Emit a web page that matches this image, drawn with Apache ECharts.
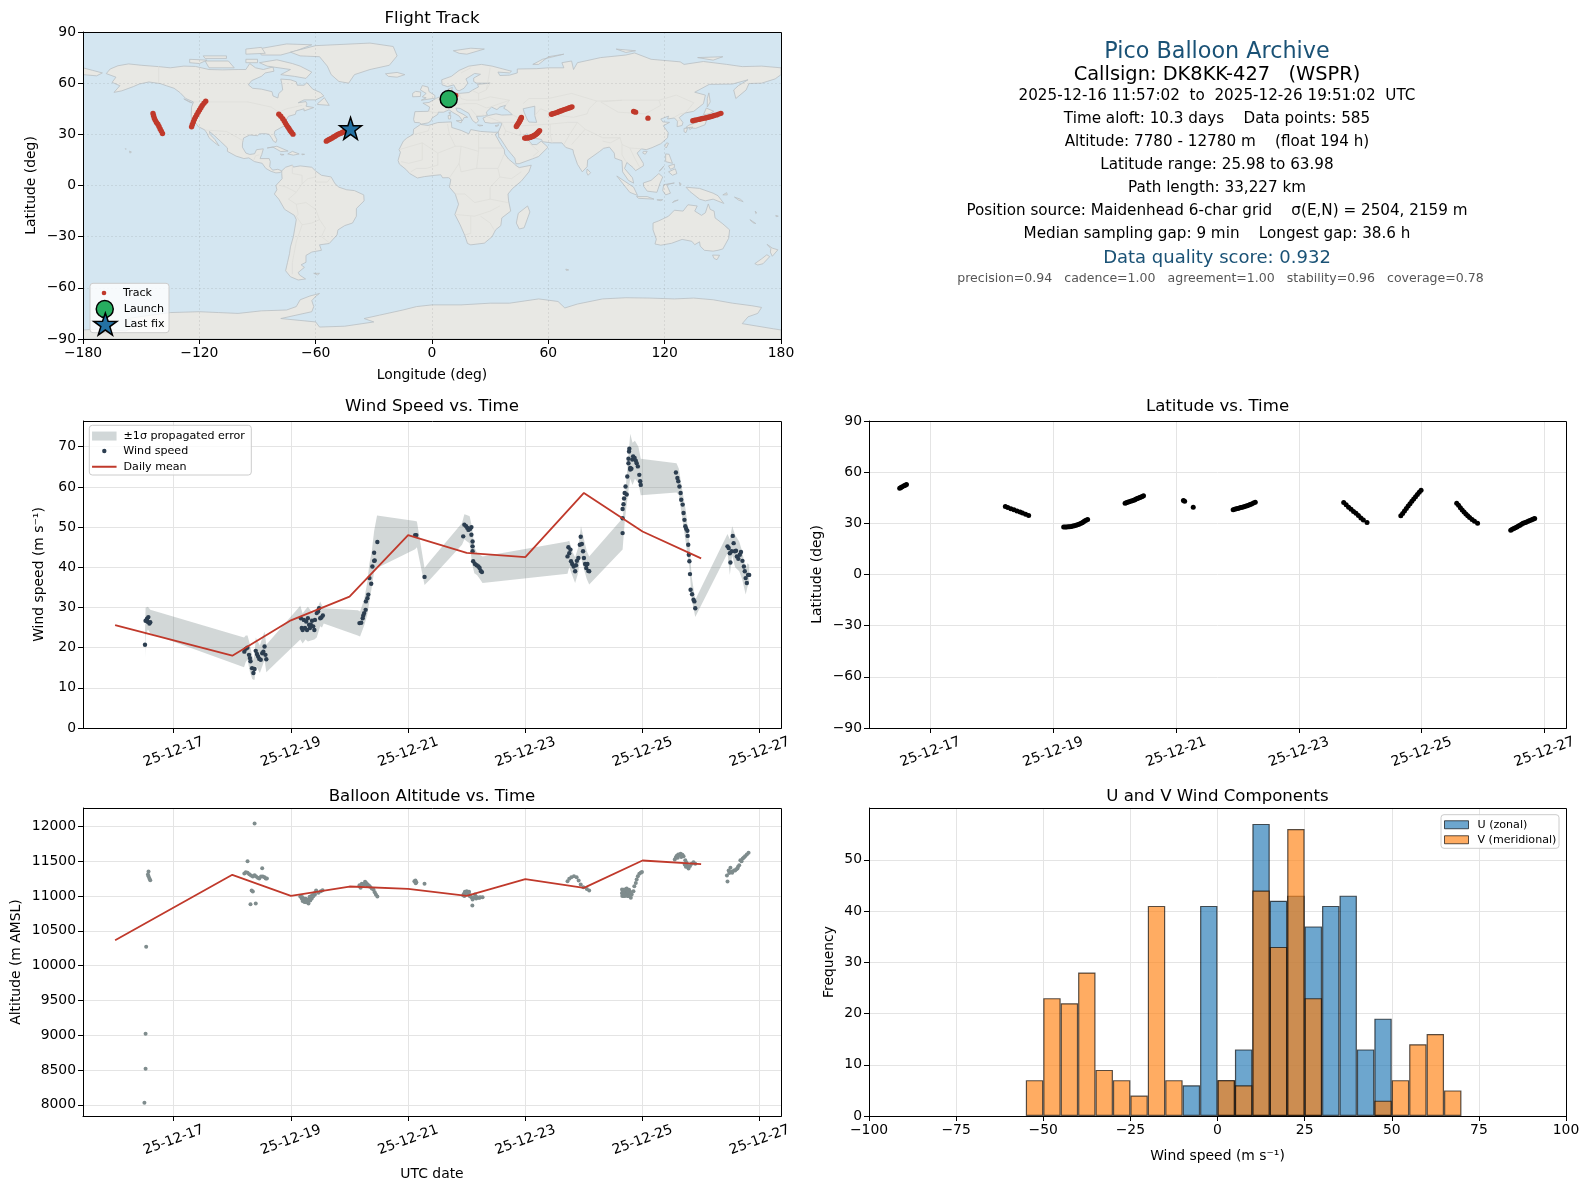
<!DOCTYPE html>
<html><head><meta charset="utf-8">
<style>html,body{margin:0;padding:0;background:#fff}#c{width:1588px;height:1189px}</style>
<script src="https://cdn.jsdelivr.net/npm/echarts@6/dist/echarts.min.js"></script>
</head><body><div id="c"></div>
<script>
// ---------- data ----------
const dayTicks=[17,19,21,23,25,27];
const dayTickLabels=['25-12-17','25-12-19','25-12-21','25-12-23','25-12-25','25-12-27'];

const trackT=[16.50,16.52,16.54,16.57,16.59,16.61, 18.22,18.26,18.31,18.36,18.41,18.46,18.50,18.55,18.60, 19.17,19.22,19.27,19.32,19.37,19.42,19.47,19.51,19.56, 20.17,20.21,20.26,20.31,20.35,20.39,20.43,20.47, 21.12,21.14,21.28, 21.93,21.98,22.03,22.08,22.13,22.18,22.23,22.29, 23.73,23.77,23.81,23.85,23.89,23.93,23.97,24.01,24.05,24.11, 24.66,24.69,24.72,24.75,24.78,24.81,24.84,24.87,24.90,24.93,24.96,24.99, 25.57,25.60,25.63,25.66,25.69,25.72,25.75,25.78,25.82,25.86,25.91, 26.45,26.50,26.55,26.60,26.65,26.70,26.75,26.80,26.84, 21.955,22.005,22.055,22.105,22.155,22.205,22.26, 26.475,26.525,26.575,26.625,26.675,26.725,26.775,26.82, 20.19,20.235,20.285,20.33,20.37,20.41,20.45, 19.195,19.245,19.295,19.345,19.395,19.445,19.49,19.535];
const trackLat=[50.6,51.0,51.5,52.0,52.4,52.8, 39.9,39.3,38.6,38.0,37.2,36.6,36.0,35.3,34.6, 27.8,27.9,28.0,28.4,28.9,29.5,30.4,31.3,32.2, 41.8,42.3,42.9,43.6,44.2,44.8,45.4,46.1, 43.4,43.0,39.5, 38.0,38.5,39.0,39.5,40.0,40.6,41.4,42.3, 42.2,40.9,39.5,38.2,37.0,35.9,34.6,33.2,31.9,30.5, 34.4,35.8,37.3,38.7,40.1,41.5,43.0,44.3,45.6,46.9,48.2,49.4, 41.8,40.6,39.2,37.8,36.6,35.4,34.4,33.4,32.3,31.2,30.1, 26.0,27.0,27.9,28.9,30.0,30.7,31.5,32.2,32.9, 38.25,38.75,39.25,39.75,40.3,41.0,41.85, 26.5,27.45,28.4,29.45,30.35,31.1,31.85,32.55, 42.05,42.6,43.25,43.9,44.5,45.1,45.75, 27.85,27.95,28.2,28.65,29.2,29.95,30.85,31.75];
const trackLon=[8.6,9.2,10,10.8,11.5,12.2, 46.1,45.9,45.6,45.3,45,44.6,44.3,43.9,43.5, 47.8,48.9,50,51,52,53,54,54.8,55.5, 61.6,63,64.6,66,67.5,69,70.6,72.2, 104,105,111.4, 134.5,136.5,138.5,140.5,142.5,144.5,146.8,149, -143.9,-143.6,-143.2,-142.7,-142.1,-141.4,-140.8,-140.2,-139.6,-139, -124,-123.6,-123.1,-122.6,-122,-121.3,-120.6,-119.9,-119.2,-118.5,-117.6,-116.7, -79,-78,-77,-76.2,-75.6,-75,-74.4,-73.8,-73.2,-72.5,-71.7, -54.5,-53,-51.5,-50,-48.5,-47,-45.5,-43.9,-42.4, 135.5,137.5,139.5,141.5,143.5,145.6,147.9, -53.75,-52.25,-50.75,-49.25,-47.75,-46.25,-44.7,-43.15, 62.3,63.8,65.3,66.75,68.25,69.8,71.4, 48.35,49.45,50.5,51.5,52.5,53.5,54.4,55.15];
const launchPoint=[8.6,50.7];
const lastFixPoint=[-42,33.5];

const windT=[16.51,16.52,16.545,16.567,16.56,16.585,16.60, 18.205,18.23,18.257,18.285,18.30,18.31,18.337,18.36,18.38,18.40,18.42,18.44,18.46,18.485,18.51,18.53,18.55,18.565,18.58, 19.17,19.185,19.20,19.22,19.24,19.26,19.275,19.29,19.31,19.325,19.34,19.36,19.38,19.40,19.41,19.44,19.465,19.48,19.50,19.52,19.545, 20.17,20.20,20.225,20.235,20.25,20.275,20.28,20.305,20.32,20.34,20.37,20.39,20.42,20.43,20.42,20.475, 21.12,21.14,21.28, 21.94,21.96,21.99,22.01,22.03,22.06,22.08,22.08,22.10,22.10,22.10,22.11,22.14,22.17,22.20,22.22,22.24,22.26, 23.72,23.735,23.75,23.77,23.78,23.80,23.825,23.85,23.865,23.88,23.905,23.93,23.945,23.965,23.985,24.00,24.02,24.04,24.06,24.075,24.09, 24.66,24.66,24.66,24.675,24.685,24.695,24.71,24.73,24.74,24.76,24.76,24.77,24.775,24.79,24.79,24.81,24.825,24.84,24.865,24.885,24.90,24.92,24.945,24.96,24.97, 25.57,25.595,25.61,25.63,25.65,25.66,25.685,25.70,25.715,25.73,25.745,25.765,25.77,25.78,25.79,25.80,25.81,25.82,25.845,25.87,25.885,25.90, 26.45,26.47,26.49,26.50,26.52,26.54,26.555,26.575,26.595,26.61,26.635,26.66,26.68,26.705,26.73,26.745,26.76,26.78,26.80,26.82];
const windV=[20.7,26.7,27.2,27.6,26.4,26.0,26.3, 19.0,19.7,20.0,18.2,17.4,16.6,14.9,13.7,14.7,19.2,18.4,17.8,17.2,17.0,18.6,19.0,20.3,18.2,17.1, 27.3,24.9,24.4,26.9,24.9,26.5,24.4,27.3,25.7,24.9,25.7,26.7,25.3,24.4,26.9,28.6,29.0,29.8,27.3,27.5,28.0, 26.1,26.2,27.3,28.0,28.6,29.4,31.5,32.3,33.2,37.3,35.9,40.2,41.6,41.7,43.6,46.3, 48.0,48.0,37.6, 47.7,50.6,50.2,49.8,49.3,49.6,50.0,48.1,46.4,45.2,44.0,41.5,40.8,40.5,40.2,39.8,39.1,38.8, 42.7,45.0,43.5,44.4,41.5,40.8,40.2,39.0,40.5,41.6,42.3,45.6,47.6,45.8,44.0,42.3,40.8,39.8,40.8,39.1,39.0, 48.5,52.2,54.5,55.7,57.1,58.5,60.1,58.1,62.6,65.9,67.0,68.8,69.5,64.7,64.3,64.5,66.8,67.6,67.2,66.5,65.9,65.1,63.0,61.4,60.5, 63.6,62.2,61.4,60.1,58.5,56.8,55.6,53.5,51.8,50.2,49.6,49.1,47.8,45.6,43.1,41.5,38.3,34.4,33.3,31.9,31.5,29.8, 45.2,44.8,43.5,41.2,44.0,47.8,46.0,44.0,44.1,42.7,42.1,43.1,43.8,41.6,40.2,39.0,37.3,36.1,38.1,38.1];

const bandT=[16.51,16.52,16.56,16.60,18.20,18.23,18.26,18.30,18.34,18.36,18.38,18.40,18.44,18.47,18.51,18.55,18.58,19.16,19.20,19.25,19.29,19.34,19.40,19.44,19.50,19.53,19.56,20.14,20.18,20.25,20.30,20.34,20.38,20.42,20.47,21.12,21.15,21.28,21.37,21.92,21.96,22.00,22.05,22.09,22.13,22.18,22.27,23.72,23.75,23.80,23.85,23.90,23.93,23.95,24.00,24.05,24.09,24.66,24.70,24.75,24.79,24.83,24.87,24.93,24.97,25.58,25.62,25.68,25.74,25.80,25.84,25.90,26.45,26.49,26.53,26.58,26.65,26.70,26.76,26.79,26.82];
const bandHi=[23.9,29.9,30.2,29.4,22.5,23.0,23.0,20.8,18.0,17.0,18.5,22.5,21.4,20.5,22.4,24.0,20.7,30.4,28.5,29.5,30.2,29.2,28.5,29.5,31.5,30.5,29.8,29.3,29.0,32.0,36.0,41.0,44.0,49.0,52.9,51.5,51.4,39.8,41.5,51.0,53.2,53.0,52.7,50.0,45.0,43.5,42.7,46.4,46.6,44.0,42.5,44.8,48.0,50.2,47.0,44.0,42.7,52.2,58.0,66.0,73.2,71.0,71.5,70.0,67.0,65.9,64.5,59.0,54.0,46.0,37.5,31.9,48.3,47.0,50.2,48.0,46.4,44.0,39.5,41.0,40.6];
const bandLo=[17.5,23.0,24.5,23.6,15.1,16.4,17.0,14.0,12.2,12.0,12.0,15.5,14.5,13.7,15.3,17.0,13.9,22.0,21.0,22.0,21.5,21.8,22.0,22.5,25.3,25.0,26.0,23.0,22.8,25.5,28.0,31.5,35.0,39.0,39.8,44.5,45.0,35.6,36.9,45.6,47.0,46.5,46.0,41.0,38.5,38.0,36.1,38.4,40.0,38.0,36.1,38.5,41.5,42.5,39.5,37.0,35.7,44.4,52.0,58.0,62.0,60.5,62.0,61.0,57.9,58.6,58.0,52.0,46.0,40.0,32.0,27.6,43.5,38.1,43.0,40.0,39.0,37.0,33.2,35.0,36.5];

const meanT=[16,18,19,20,21,22,23,24,25,26];
const meanWind=[25.6,18.0,26.8,32.7,48.0,43.6,42.5,58.5,48.9,42.2];
const meanAlt=[10365,11305,11002,11137,11103,11002,11242,11118,11511,11458];

const altT=[16.50,16.52,16.52,16.53,16.57,16.56,16.57,16.585,16.60, 18.26,18.38,18.51,18.33,18.35,18.31,18.40, 18.205,18.23,18.26,18.29,18.32,18.35,18.38,18.405,18.435,18.46,18.49,18.52,18.55,18.57,18.59, 19.16,19.185,19.21,19.24,19.27,19.30,19.33,19.355,19.38,19.41,19.43,19.47,19.51,19.54,19.19,19.22,19.25,19.28,19.32,19.36,19.40, 20.17,20.19,20.21,20.235,20.265,20.28,20.305,20.33,20.35,20.38,20.41,20.43,20.45,20.475,20.18,20.25,20.30, 21.107,21.125,21.14,21.13,21.28, 21.94,21.97,22.00,22.03,22.06,22.08,22.10,22.096,22.14,22.17,22.20,22.23,22.27,21.96,21.99,22.02,22.05, 23.72,23.75,23.785,23.83,23.875,23.91,23.945,23.99,24.05,24.09, 24.65,24.66,24.675,24.70,24.73,24.755,24.77,24.80,24.815,24.845,24.86,24.885,24.90,24.92,24.945,24.97,24.99,24.65,24.67,24.69,24.71,24.74,24.76,24.79, 25.55,25.58,25.61,25.65,25.70,25.73,25.76,25.785,25.81,25.84,25.87,25.90,25.60,25.63,25.68,25.75,25.78, 26.45,26.44,26.47,26.50,26.53,26.56,26.58,26.62,26.65,26.67,26.71,26.75,26.78,26.81,26.48,26.52,26.60,26.63,26.69,26.73, 24.655,24.665,24.68,24.685,24.695,24.70,24.72,24.68,24.70,24.745,24.75,21.95,21.97,22.01,22.04,22.12,22.16,22.22,19.20,19.23,19.26,19.29,19.31,19.34,19.38, 25.57,25.59,25.66,25.72,25.74];
const altV=[8029,8518,9022,10273,11352,11309,11285,11252,11228, 11501,12043,11400,11079,11065,10883,10892, 11324,11343,11333,11314,11295,11281,11300,11281,11262,11252,11281,11281,11271,11252,11252, 10993,10964,10945,10935,10926,10892,10935,10964,10998,11022,11079,11046,11070,11084,10985,10965,10960,10950,10990,11010,11040, 11156,11118,11175,11170,11204,11190,11170,11150,11132,11108,11089,11055,11022,10993,11135,11165,11155, 11213,11223,11199,11185,11175, 11012,11060,11070,11050,11012,10983,10950,10863,11022,10988,10974,10983,10983,11000,11040,11030,11000, 11213,11247,11271,11285,11271,11223,11166,11127,11103,11079, 11094,11055,11022,11070,11108,11031,11089,10974,11022,11070,11142,11189,11237,11285,11319,11333,11345,11040,11075,11050,11085,11045,11000,11060, 11525,11573,11597,11606,11573,11516,11444,11396,11430,11463,11487,11463,11550,11590,11595,11480,11410, 11209,11295,11367,11405,11333,11367,11367,11396,11444,11516,11540,11573,11597,11621,11330,11350,11385,11420,11500,11555, 11000,11010,11000,11030,11010,11000,11020,11090,11095,11000,11060,11030,11050,11040,11060,10975,10965,10975,10930,10915,10910,10925,10945,10975,11005, 11555,11580,11560,11455,11420];

const histCenters=[-52.5,-47.5,-42.5,-37.5,-32.5,-27.5,-22.5,-17.5,-12.5,-7.5,-2.5,2.5,7.5,12.5,17.5,22.5,27.5,32.5,37.5,42.5,47.5,52.5,57.5,62.5,67.5];
const histU=[0,0,0,0,0,0,0,0,0,6,41,7,13,57,42,43,37,41,43,13,19,0,0,0,0];
const histV=[7,23,22,28,9,7,4,41,7,0,0,7,6,44,33,56,23,0,0,0,3,7,14,16,5];

const infoLines=[
 ['Pico Balloon Archive',52.2,22.3,'#1a5276'],
 ['Callsign: DK8KK-427   (WSPR)',74.8,19.4,'#000'],
 ['2025-12-16 11:57:02  to  2025-12-26 19:51:02  UTC',95.9,15.2,'#000'],
 ['Time aloft: 10.3 days    Data points: 585',119,15.2,'#000'],
 ['Altitude: 7780 - 12780 m    (float 194 h)',142.3,15.2,'#000'],
 ['Latitude range: 25.98 to 63.98',164.8,15.2,'#000'],
 ['Path length: 33,227 km',188.1,15.2,'#000'],
 ['Position source: Maidenhead 6-char grid    σ(E,N) = 2504, 2159 m',211.3,15.2,'#000'],
 ['Median sampling gap: 9 min    Longest gap: 38.6 h',234.1,15.2,'#000'],
 ['Data quality score: 0.932',258.7,18,'#1a5276'],
 ['precision=0.94   cadence=1.00   agreement=1.00   stability=0.96   coverage=0.78',279,12.55,'#555555',1220.5]
];

// land outlines, [lon,lat]
const landPolygons=[
 [[-168,65.6],[-166,68.3],[-162,70.2],[-156.5,71.3],[-150,70.5],[-141,69.7],[-135,69],[-128,70],[-122,69.8],[-115,68],[-108,67.8],[-100,68],[-96,68],[-94,71.5],[-91,69],[-87,68],[-82,69.5],[-81.5,67],[-86,66],[-88,64],[-93,61.5],[-94.7,59],[-92.5,57],[-88,56.5],[-82.5,55],[-82,52.5],[-79.5,51.3],[-79,54],[-77,56],[-77.5,60],[-78,62.4],[-73,62],[-70,60.8],[-69.5,58.8],[-66,58.8],[-64.5,60.3],[-61.5,56.5],[-57.5,54.5],[-55.8,52.5],[-60,50.2],[-66,50.2],[-69,48.5],[-65,49.2],[-64.5,47.8],[-65,46.5],[-61,45.7],[-66,43.7],[-66,45],[-70,43.7],[-70.5,41.7],[-74,40.6],[-75.5,38],[-76,36.8],[-75.7,35.2],[-78,33.9],[-81,32],[-81.4,30],[-80,26.8],[-80.5,25.2],[-81.8,26],[-82.8,28],[-84,30],[-86,30.4],[-89,30.3],[-90,29.2],[-94,29.6],[-97.2,27.8],[-97.7,25],[-97.8,22.5],[-96,19],[-94,18.2],[-91.5,18.6],[-90.5,21],[-87,21.5],[-87.8,18.2],[-88.7,15.8],[-84,15.8],[-83.4,14],[-83.7,11],[-82.2,9],[-79.5,9.5],[-77.5,8.6],[-78.2,7.6],[-80.5,7.4],[-83,8.3],[-85.7,10],[-87.6,13],[-91.5,14],[-94.5,16.2],[-97,15.8],[-101,17.2],[-105.5,20],[-105.5,22],[-109,25.8],[-112.5,29.5],[-114.8,31.7],[-114.5,30],[-112,27],[-109.8,23.2],[-112,25],[-115,28],[-116,30.5],[-117.2,32.6],[-120.5,34.5],[-122.5,37.5],[-124.2,40.3],[-124,46],[-123,49],[-127,51],[-130,54.5],[-133,57],[-137,58.5],[-140,59.7],[-146,60.7],[-151,59.5],[-154,58],[-160,55.5],[-164,54.6],[-161,58.5],[-165,60.5],[-163,63.5]],
 [[-80,73.7],[-72,71.5],[-68,70],[-62,66.5],[-65,62.8],[-71,64],[-78,65],[-73,68],[-85,70],[-89,72]],
 [[-117,73],[-105,73],[-102,69],[-115,69]],[[-125,74],[-116,73.5],[-120,71.5],[-125,72]],
 [[-90,80],[-75,83],[-62,82.5],[-70,79],[-78,76.5],[-88,76.5]],[[-96,80],[-88,81],[-86,77.5],[-96,77]],
 [[-118,76],[-106,76],[-106,74.5],[-117,74.5]],[[-96,74],[-90,74],[-90,72],[-96,72]],
 [[-59,48],[-55.5,51.5],[-53,47],[-59,47.5]],[[-128,50.8],[-123.5,48.4],[-125,48.8]],
 [[-85,22],[-80,23],[-74.2,20.2],[-78,19.9],[-82,22.5]],[[-74.4,18.5],[-72,20],[-68.5,18.5],[-71.5,17.8]],
 [[-78.3,18.4],[-76.3,18.1],[-77.5,17.8]],[[-67.2,18.5],[-65.7,18.3],[-67,18]],
 [[-156,20.2],[-155,19.6],[-155.8,19]],[[-158.2,21.6],[-157.7,21.4],[-158,21.2]],
 [[-73,78.2],[-60,82],[-32,83.5],[-20,81.5],[-18,76],[-22,70.5],[-32,68],[-40,65],[-43,60],[-48,61],[-52,65],[-54,70],[-58,75.5],[-68,76]],
 [[-24,65.5],[-18,66.3],[-14,65],[-18,63.5],[-22.5,64]],
 [[11,79],[20,80.5],[27,80],[18,77],[14,77.5]],[[52,71],[57,74],[68,77],[60,75.5],[55,71]],[[95,80],[105,79],[100,78]],[[137,75],[150,75.5],[145,73.5]],
 [[-180,69],[-175,67.5],[-170,66],[-173,64.3],[-180,65]],
 [[-77.5,8.6],[-75.5,10.7],[-72,12],[-71.5,10.8],[-68,11.5],[-62,10.7],[-60,8.5],[-57,6],[-52,5],[-50,1],[-48,-1],[-44,-2.5],[-40,-3],[-35.2,-5.5],[-35,-9],[-39,-13.5],[-39,-18],[-41,-22],[-45,-23.5],[-48.5,-26],[-49,-29],[-53,-34],[-58,-34.8],[-57,-38],[-62,-39],[-65,-41],[-65,-45],[-67.5,-46.5],[-65.8,-48],[-69,-51],[-68.3,-52.5],[-65.2,-54.8],[-69,-55.4],[-73,-53.5],[-75.5,-50],[-74.5,-45],[-73.5,-40],[-73,-36],[-71.5,-30],[-70,-20],[-71,-17.5],[-76,-14],[-79,-8],[-81.3,-5],[-80,-2.5],[-80.5,0],[-78.5,2.5],[-77.3,4],[-77.5,7]],
 [[-61,-51.5],[-58,-51.5],[-59,-52.4]],
 [[-5.9,35.8],[-2,35.2],[3,36.9],[10,37.3],[10.2,34],[15,32.3],[19,30.3],[20,32.8],[25,31.7],[32,31.2],[34.2,31.3],[32.6,29.9],[35.5,24],[37.3,21],[37.5,18.5],[39.5,15.5],[43.2,12],[43.5,11.5],[45,10.5],[51.2,11.9],[50,8],[46,2.5],[41.5,-1.8],[39.2,-5],[39.5,-9],[40.6,-15],[36,-19],[35.5,-23.5],[32.8,-26],[31,-30],[27,-33.8],[20,-34.8],[18.3,-34],[17,-29.5],[14.5,-23],[11.8,-17],[13.7,-11],[12,-5],[9,-1],[9.7,3.5],[8.5,4.6],[5.5,4.5],[4.5,6.3],[1,5.9],[-4,5.2],[-7.5,4.4],[-11.5,7],[-13.5,9.5],[-16.8,12.5],[-17.5,14.7],[-16.3,19.5],[-17,21],[-14.8,26],[-13,27.8],[-9.7,30],[-9.5,33]],
 [[49.3,-12],[50.5,-15.5],[47.5,-24.8],[45,-25.5],[43.5,-22],[44.5,-16.3]],
 [[-9,37],[-9.5,38.8],[-8.8,43.3],[-1.8,43.5],[-1.2,46],[-4.7,48.3],[-1.5,48.7],[2,51],[4,52],[8,53.8],[8.3,56.5],[10.5,57.5],[10,54.8],[11,54],[14,54],[19,54.5],[21,56],[24,57.8],[23.5,59.3],[30,60],[23,60],[21.5,61],[21.5,63],[25,65.2],[22,65.7],[17.5,62.5],[18.5,60],[16.5,57],[14,55.5],[12.7,56],[11.2,59],[8,58],[5.2,59],[5,62],[10,64],[14,67.5],[19,70],[25.5,71],[31,70],[41,67],[40,66],[34,66.5],[35,64.5],[40,64.7],[44,66],[44,68.3],[54,68.5],[60,69],[68,69],[67,72],[72,73],[73,68],[75,72],[81,73.5],[87,75],[100,76.5],[104.5,77.7],[113,74],[128,72.5],[130,71],[140,72.7],[152,71],[160,69.7],[170,70],[180,69],[180,65],[177,62.5],[170,60],[163.5,59.8],[162,56],[156.7,51],[155.6,56],[158,58.5],[163,62],[155,59.5],[143,59.3],[135.5,54.7],[141,53],[140,48],[135,43.5],[130.5,42.5],[127.5,39.8],[129.4,37],[129,35.2],[126.4,34.5],[126.6,37.7],[125,39.6],[121.5,39],[122,40.7],[118,39],[119,37.3],[122.5,37],[119.3,35],[121.8,31],[121.5,28],[118,24.5],[113.5,22.2],[110.5,21],[108,21.5],[105.8,19],[109,13],[109,11.5],[105,8.7],[103.7,10.5],[100.5,13.5],[99.3,10],[103.4,4.5],[104,1.4],[101.3,3],[98.3,8],[98,14.5],[94.3,16],[94,19],[91.5,22.5],[88.5,21.8],[86.5,20],[80.3,15],[80,11],[77.5,8],[75,12.5],[73,19],[72.7,21],[69,22.3],[67,25],[61.5,25],[57,25.7],[56.5,27],[51.5,27.9],[49,30.3],[48,29.8],[48.5,28],[51,25],[51.5,24],[54,24],[56.3,26],[58.7,23.6],[59.8,22.4],[55,17],[52,15.7],[45,12.8],[43.3,12.7],[42.7,16],[39,21],[35,28],[34.5,28],[34.2,31.3],[35.8,35.5],[36,36.8],[30.5,36.5],[27.3,37],[26.3,39.5],[29,41],[33,42],[36,41.3],[41.5,41.5],[39,44],[37,45.3],[38,47],[35,46],[33.5,44.5],[30.7,46],[28,43],[28.5,41.3],[26,40.7],[23,40.5],[24,38],[22.8,36.5],[21,38],[19.5,41],[19,42.3],[14.5,45.2],[12.3,45.4],[13,43.5],[16,41.8],[18.4,40],[16.5,39.8],[15.7,38],[14,40.7],[10.5,43],[8.8,44.4],[6,43],[3.2,43],[3,41.7],[0,39.5],[-0.5,38],[-2,36.7],[-5.5,36],[-6.5,36.8]],
 [[-5.5,50],[1.5,51.2],[1.5,52.8],[-1.5,55],[-2,57.7],[-5,58.6],[-6,56],[-3,54],[-5,52],[-3,51.4]],[[-10,52],[-6,52.2],[-5.8,54.8],[-8.5,55.2],[-10,54]],
 [[12.5,38],[15.5,38.2],[15,36.7]],[[8.3,41],[9.7,41],[9.5,39],[8.5,39]],[[8.7,42.8],[9.5,43],[9.3,41.5]],[[23.5,35.5],[26.3,35.2],[24.5,34.9]],[[32.5,35],[34.5,35.6],[33.5,34.6]],
 [[130.9,34],[136,33.5],[140.8,35.6],[142,39.5],[141,41.4],[139.8,39],[136.7,37],[132.5,35.4]],[[140,41.5],[141.5,45.4],[145.3,43.5],[143,42]],[[130,33.5],[131.8,33.5],[131,31],[130,31.5]],[[132.5,34],[134.5,34.2],[133,32.8]],
 [[142,46],[143.5,49],[142.8,54.3],[142,51]],[[121,25],[122,24.7],[120.8,22],[120,23]],[[109,20],[111,20],[110,18.3],[108.7,19]],
 [[120.5,18.5],[122.3,18.3],[124,13],[120.5,14]],[[122,8],[125.5,9.8],[126.3,7],[124,6]],[[122,11.5],[125,12.5],[125,10.5],[123,9.5]],[[117.2,8.4],[119.5,11.3],[118,9]],
 [[95.3,5.6],[104,-1],[106,-5.8],[102,-4],[98.5,1]],[[105.5,-6.5],[111,-6.5],[114.5,-8],[106.5,-7.5]],[[109,1.5],[113,3],[117,7],[119,5],[117.5,1],[116,-4],[111,-3.3],[109.2,-0.5]],[[119.5,0.5],[125,1.5],[121,0.5],[123,-4.5],[120.5,-5.5],[119,-3]],
 [[131,-1],[138,-1.7],[145,-4.5],[147.5,-6],[150.5,-10.5],[145,-8],[141,-9],[138,-8],[133,-3.5]],[[80,9.7],[81.8,7.5],[80.5,6],[79.8,7.5]],[[124,-10],[127,-8.5],[125,-9]],[[116,-8.4],[119,-8.3],[118,-8.9]],[[127.5,1.8],[128.5,1],[128,0]],[[150,-5.5],[152,-4.2],[152.3,-5.5]],
 [[156,-6.8],[159,-8],[160.5,-9.5],[158,-8.5]],[[166.7,-15],[167.5,-16],[167,-16.5]],[[164,-20],[167,-22.3],[165.5,-21.8]],[[177.3,-17.5],[178.6,-18],[177.5,-18.3]],
 [[69,-49],[70.5,-49.5],[69.3,-49.8]],[[144.7,-40.8],[148.3,-40.9],[147,-43.5],[145.5,-42.8]],
 [[172.8,-34.5],[175.5,-36.7],[178.4,-37.7],[175.5,-41.5],[174.5,-39],[174.8,-37]],[[172.7,-40.6],[174.2,-41.7],[170.7,-45.9],[168,-46.6],[166.5,-45.8],[170,-43]],
 [[114,-22],[114,-26],[115.7,-31.5],[115,-34.3],[118,-35],[123.5,-33.9],[129,-31.6],[134,-32.7],[135.5,-34.7],[138,-33],[138.3,-35.5],[140.5,-38],[145,-38.5],[147.5,-38],[150,-37.2],[153,-31],[153.5,-26],[150,-22.5],[146,-19],[145.5,-15],[143.5,-14],[142.5,-10.8],[141,-16],[139,-17.5],[135.5,-15],[136.8,-12],[132,-11.3],[129.5,-15],[125,-14.5],[122,-18],[117,-20.7]],
 [[-180,-84.7],[-170,-84],[-158,-85.3],[-150,-81],[-157,-78],[-148,-76.5],[-135,-74.5],[-120,-74],[-110,-74.5],[-100,-75],[-88,-73.5],[-75,-73],[-70,-71],[-68,-67],[-63,-64.8],[-58,-63.3],[-60,-65],[-62,-67.5],[-61,-71],[-62,-74],[-78,-78],[-60,-80],[-58,-83],[-45,-82.5],[-30,-80],[-35,-78],[-27,-76],[-15,-73],[-8,-71],[0,-70],[15,-70],[30,-69],[40,-69],[55,-66.5],[65,-68],[68.5,-71.8],[75,-69.5],[88,-66.5],[100,-65.8],[112,-66],[125,-66.5],[135,-66],[145,-67],[155,-69],[165,-70.5],[170,-71.5],[168,-75],[163,-77],[160,-81],[176,-84],[180,-84.7],[180,-90],[-180,-90]]
];
const waterPolygons=[[[47,45],[53,46.5],[53,41],[54,37],[50,37.2],[49,39],[47.5,43]]];
const borderLines=[
 [[-123,49],[-95,49],[-83,46],[-79,43],[-75,45],[-67,47]],[[-117,32.5],[-106,31.7],[-97,26]],[[-141,70],[-141,60]],[[-92,14.5],[-91,17.5],[-89,18]],
 [[-72,12],[-72,7],[-67,6],[-67,1],[-70,-4],[-74,-8],[-70,-11],[-69,-17],[-70,-18]],[[-60,8],[-60,5],[-64,4],[-67,1]],[[-52,5],[-54,2],[-60,2]],[[-70,-11],[-65,-10],[-60,-14],[-58,-20],[-62,-22],[-67,-23],[-70,-18]],[[-67,-23],[-70,-33],[-72,-45],[-72,-52]],[[-58,-20],[-55,-25],[-57,-30],[-53,-33.5]],[[-78,0],[-75,-1],[-70,-4]],
 [[-9,30],[-2,32],[-1,35]],[[-5,25],[3,19],[12,23],[9,30],[8,36]],[[-17,21],[-5,25]],[[-5,25],[-5,15],[-12,13],[-16,14]],[[3,19],[3,12],[-3,10],[-8,10],[-11,8]],[[12,23],[15,23],[24,20],[24,31]],[[24,22],[37,22]],[[15,23],[14,13],[9,4.5]],[[24,20],[23,10],[15,8],[14,13]],[[23,10],[34,10],[36,15],[37,18]],[[34,10],[35,5],[41,4],[46,8]],[[35,5],[30,-1],[30,-8],[39,-10]],[[12,-5],[17,-5],[22,-10],[30,-8]],[[12,-17],[22,-18],[30,-15],[35,-12]],[[20,-18],[20,-28],[17,-29]],[[25,-18],[30,-22],[32,-26]],
 [[-2,43.5],[3,42.5]],[[2,51],[6,49.5],[8,47.5],[7,44]],[[8,47.5],[13,47.5],[17,48],[23,48],[28,45.5]],[[7,53.5],[6,50]],[[14,54],[15,51],[18,50],[24,50]],[[24,50],[24,54],[21,55.5]],[[28,45.5],[30,46],[40,50],[38,47]],[[24,50],[30,52],[40,50]],[[28,56],[30,60]],[[30,69],[29,62],[28,56],[24,54]],[[15,66],[20,69]],[[20,45],[23,41],[26,41]],[[26,41.5],[36,37],[44,37],[44,40],[41.5,41.5]],
 [[36,37],[38,32],[37,29]],[[44,37],[46,30],[48,29.5]],[[38,32],[46,29],[55,20],[52,17]],[[44,37],[48,39],[49,38]],[[46,35],[61,36],[61,30],[62,25]],[[61,36],[70,37],[75,37],[71,30],[68,24]],
 [[53,41],[56,45],[65,41],[73,40],[80,42],[81,45],[85,49.5],[72,54],[60,51],[50,51],[47,48]],[[85,49.5],[98,50],[107,50],[117,50],[126,53],[135,48.5],[131,43]],[[98,50],[87,49],[96,43],[110,42],[118,47],[117,50]],[[75,37],[79,33],[88,28],[97,28],[98,24],[102,22],[108,21.5]],[[79,33],[72,24]],[[88,26],[92,25],[97,28]],[[98,24],[98,18],[100,14]],[[102,22],[105,15],[107,11]],[[125,40],[128,42],[130.5,42.5]],[[126.5,38],[128.5,38.5]]
];

// ---------- layout ----------
const FONT='"DejaVu Sans",sans-serif';
const G={map:[83,32,698,307],wind:[83,421,698,307],lat:[869,421,697,307],alt:[83,808,698,308],hist:[869,808,697,308]};
const grid=Object.values(G).map(g=>({left:g[0],top:g[1],width:g[2],height:g[3],show:true,borderWidth:0,backgroundColor:'transparent',containLabel:false}));
grid[0].backgroundColor='#d4e6f1';
const GRIDC='#e4e4e4';
const minus=v=>String(v).replace('-','\u2212');
function valAxis(idx,min,max,ticks,name,gap,extra){
 return Object.assign({type:'value',gridIndex:idx,min,max,name,nameLocation:'middle',nameGap:gap,
  nameTextStyle:{fontFamily:FONT,fontSize:13.9,color:'#000'},
  axisLine:{show:true,onZero:false,lineStyle:{color:'#000',width:1}},
  axisTick:{show:true,length:5,customValues:ticks,lineStyle:{color:'#000',width:1}},
  axisLabel:{show:true,customValues:ticks,margin:7,fontFamily:FONT,fontSize:13.9,color:'#000',formatter:minus,hideOverlap:false},
  splitLine:{show:true,lineStyle:{color:GRIDC,width:1}}},extra||{});
}
function timeAxis(idx,min,max,name,gap){
 const a=valAxis(idx,min,max,dayTicks,name,gap);
 a.axisLabel=Object.assign(a.axisLabel,{rotate:20,align:'center',verticalAlign:'middle',margin:24,formatter:v=>dayTickLabels[dayTicks.indexOf(v)]});
 return a;
}
const lonTicks=[-180,-120,-60,0,60,120,180],latTicks=[-90,-60,-30,0,30,60,90];
const mapGrid={show:true,lineStyle:{color:'rgba(120,120,120,0.2)',width:0.8,type:[2,2]}};
const xAxis=[
 valAxis(0,-180,180,lonTicks,'Longitude (deg)',29,{z:3,splitLine:mapGrid}),
 timeAxis(1,15.452,27.363,'',0),
 timeAxis(2,16.0,27.35,'',0),
 timeAxis(3,15.452,27.363,'UTC date',51),
 valAxis(4,-100,100,[-100,-75,-50,-25,0,25,50,75,100],'Wind speed (m s\u207B\u00B9)',33)
];
const yAxis=[
 valAxis(0,-90,90,latTicks,'Latitude (deg)',45,{z:3,splitLine:mapGrid}),
 valAxis(1,0,76.4,[0,10,20,30,40,50,60,70],'Wind speed (m s\u207B\u00B9)',37),
 valAxis(2,-90,90,latTicks,'Latitude (deg)',45),
 valAxis(3,7840,12265,[8000,8500,9000,9500,10000,10500,11000,11500,12000],'Altitude (m AMSL)',60),
 valAxis(4,0,60.1,[0,10,20,30,40,50],'Frequency',33)
];
const STAR='path://M12 0 L14.9 8.6 L24 8.7 L16.7 14.1 L19.4 22.8 L12 17.6 L4.6 22.8 L7.3 14.1 L0 8.7 L9.1 8.6 Z';
const zip=(a,b)=>a.map((v,i)=>[v,b[i]]);
function polySeries(name,polys,fill,stroke,lw,z){
 return {type:'custom',name,coordinateSystem:'cartesian2d',xAxisIndex:0,yAxisIndex:0,z,silent:true,clip:true,
  data:[[0,0]],encode:{x:0,y:1},
  renderItem:(par,api)=>({type:'group',children:polys.map(p=>({type:fill?'polygon':'polyline',
    shape:{points:p.map(q=>api.coord(q))},style:{fill:fill||'none',stroke,lineWidth:lw}}))})};
}
const bandSeries={type:'custom',name:'\u00B11\u03C3 propagated error',coordinateSystem:'cartesian2d',xAxisIndex:1,yAxisIndex:1,z:1,silent:true,clip:true,
 itemStyle:{color:'#d1d7d8'},data:[[bandT[0],bandLo[0]]],encode:{x:0,y:1},
 renderItem:(par,api)=>{const up=bandT.map((t,i)=>api.coord([t,bandHi[i]]));const lo=bandT.map((t,i)=>api.coord([t,bandLo[i]])).reverse();
  return {type:'polygon',shape:{points:up.concat(lo)},style:{fill:'#7f8c8d',opacity:0.35,stroke:'none'}};}};
const histStyle=c=>({color:c,opacity:0.65,borderColor:'#000',borderWidth:1.2});
const pickHist=arr=>histCenters.map((c,i)=>[c,arr[i]]).filter(d=>d[1]>0);
const series=[
 polySeries('land',landPolygons,'#e8e8e4','#b9bfc3',0.8,1),
 polySeries('caspian',waterPolygons,'#d4e6f1','#b9bfc3',0.8,1),
 polySeries('borders',borderLines,null,'#dcdcd8',0.7,1),
 {type:'scatter',name:'Track',xAxisIndex:0,yAxisIndex:0,z:4,symbolSize:5.4,silent:true,itemStyle:{color:'#c0392b',opacity:1},data:zip(trackLon,trackLat)},
 {type:'scatter',name:'Launch',xAxisIndex:0,yAxisIndex:0,z:5,symbolSize:17,silent:true,itemStyle:{color:'#27ae60',borderColor:'#000',borderWidth:1.5,opacity:1},data:[launchPoint]},
 {type:'scatter',name:'Last fix',xAxisIndex:0,yAxisIndex:0,z:6,symbol:STAR,symbolSize:22,silent:true,itemStyle:{color:'#2471a3',borderColor:'#000',borderWidth:1.5,opacity:1},data:[lastFixPoint]},
 bandSeries,
 {type:'scatter',name:'Wind speed',xAxisIndex:1,yAxisIndex:1,z:3,symbolSize:4.4,silent:true,itemStyle:{color:'#2c3e50',opacity:1},data:zip(windT,windV)},
 {type:'line',name:'Daily mean',xAxisIndex:1,yAxisIndex:1,z:4,showSymbol:false,silent:true,lineStyle:{color:'#c0392b',width:1.8},itemStyle:{color:'#c0392b'},data:zip(meanT,meanWind)},
 {type:'scatter',name:'Latitude',xAxisIndex:2,yAxisIndex:2,z:3,symbolSize:5,silent:true,itemStyle:{color:'#000',opacity:1},data:zip(trackT,trackLat)},
 {type:'scatter',name:'Altitude',xAxisIndex:3,yAxisIndex:3,z:3,symbolSize:4,silent:true,itemStyle:{color:'#7f8c8d',opacity:1},data:zip(altT,altV)},
 {type:'line',name:'Altitude daily mean',xAxisIndex:3,yAxisIndex:3,z:4,showSymbol:false,silent:true,lineStyle:{color:'#c0392b',width:1.8},itemStyle:{color:'#c0392b'},data:zip(meanT,meanAlt)},
 {type:'bar',name:'U (zonal)',xAxisIndex:4,yAxisIndex:4,z:2,barWidth:17.42,barGap:'-100%',silent:true,itemStyle:histStyle('#1f77b4'),data:pickHist(histU)},
 {type:'bar',name:'V (meridional)',xAxisIndex:4,yAxisIndex:4,z:3,barWidth:17.42,barGap:'-100%',silent:true,itemStyle:histStyle('#ff7f0e'),data:pickHist(histV)}
];
// legends: one component per entry so each key has its own size
const legend=[];
const frames=Object.values(G).map(g=>({type:'rect',z:80,silent:true,shape:{x:g[0]+0.5,y:g[1]+0.5,width:g[2],height:g[3]},style:{fill:'none',stroke:'#000',lineWidth:1}}));
function addLegend(box,keyX,entries,fs,pad){
 frames.push({type:'rect',z:90,silent:true,shape:{x:box[0],y:box[1],width:box[2],height:box[3],r:3},style:{fill:'rgba(255,255,255,0.8)',stroke:'#cccccc',lineWidth:1}});
 entries.forEach(e=>{
  const h=Math.max(e.h,9.5);
  const isRect=e.icon==='rect';
  const w=e.w||28;
  const left=isRect?keyX-w/2:keyX-e.h/2;
  legend.push({z:95,show:true,orient:'horizontal',left,top:e.y-h/2,padding:0,itemGap:0,itemWidth:w,itemHeight:e.h,selectedMode:false,
   textStyle:{fontFamily:FONT,fontSize:fs,color:'#000',padding:isRect?[0,0,0,pad]:0},data:[{name:e.name,icon:e.icon,itemStyle:e.style,lineStyle:{opacity:0}}]});
 });
}
addLegend([90,283.3,79,49.4],104,[
 {name:'Track',y:292.3,h:4.6,icon:'circle',style:{color:'#c0392b',opacity:1}},
 {name:'Launch',y:308.3,h:17,icon:'circle',style:{color:'#27ae60',borderColor:'#000',borderWidth:1.5,opacity:1}},
 {name:'Last fix',y:323.3,h:22,icon:STAR,style:{color:'#2471a3',borderColor:'#000',borderWidth:1.5,opacity:1}}],11.1,0);
addLegend([89.3,425.3,162,49.7],104.3,[
 {name:'\u00B11\u03C3 propagated error',y:435.3,h:9,w:24.5,icon:'rect',style:{color:'#d1d7d8',opacity:1}},
 {name:'Wind speed',y:450.3,h:4.4,icon:'circle',style:{color:'#2c3e50',opacity:1}},
 {name:'Daily mean',y:466,h:2,w:24.5,icon:'rect',style:{color:'#c0392b',opacity:1}}],11.1,2);
addLegend([1441,814.7,118,33.6],1456,[
 {name:'U (zonal)',y:824,h:8,w:24,icon:'rect',style:{color:'#1f77b4',borderColor:'#000',borderWidth:1}},
 {name:'V (meridional)',y:839,h:8,w:24,icon:'rect',style:{color:'#ff7f0e',borderColor:'#000',borderWidth:1}}],11.1,4);

const infoText=infoLines.map(l=>({type:'text',silent:true,x:l[4]||1217,y:l[1],style:{text:l[0],fill:l[3],font:l[2]+'px '+FONT,textAlign:'center',textVerticalAlign:'middle'}}));
const tt=(text,g,dy)=>({text,left:g[0]+g[2]/2,top:g[1]-23+dy,textAlign:'center',padding:0,textStyle:{fontFamily:FONT,fontSize:16.6,fontWeight:'normal',color:'#000'}});
const title=[tt('Flight Track',G.map,1),tt('Wind Speed vs. Time',G.wind,0),tt('Latitude vs. Time',G.lat,0),tt('Balloon Altitude vs. Time',G.alt,3),tt('U and V Wind Components',G.hist,3)];

const chart=echarts.init(document.getElementById('c'),null,{renderer:'canvas',width:1588,height:1189});
chart.setOption({animation:false,backgroundColor:'#fff',textStyle:{fontFamily:FONT},grid,xAxis,yAxis,series,legend,title,tooltip:{show:false},
 graphic:{elements:frames.concat(infoText)}});
</script></body></html>
